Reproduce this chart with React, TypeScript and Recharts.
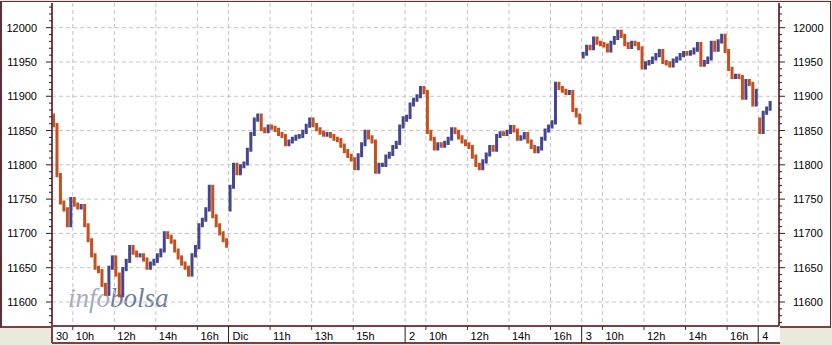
import { ComposedChart, Bar, Cell, XAxis, YAxis, CartesianGrid } from 'recharts';

// intraday closes, one value every 10 minutes (9:00 - 17:30)
const dayLabels = ['30', 'Dic', '2', '3', '4'];
const dayOpens = [11872, 11735, 11866, 11958, 11866];

const day30 = [
  11858, 11785, 11745, 11735, 11712, 11750, 11742, 11738, 11740, 11712,
  11690, 11668, 11650, 11645, 11625, 11612, 11650, 11665, 11640, 11610,
  11648, 11660, 11680, 11672, 11668, 11668, 11662, 11650, 11656, 11660,
  11668, 11675, 11700, 11695, 11688, 11675, 11665, 11656, 11650, 11640,
  11668, 11680, 11712, 11720, 11735, 11768, 11725, 11712, 11700, 11690,
  11682,
];
const dayDic = [
  11768, 11800, 11788, 11798, 11802, 11822, 11845, 11866, 11872, 11852,
  11849, 11856, 11854, 11851, 11845, 11842, 11830, 11834, 11838, 11841,
  11842, 11848, 11857, 11866, 11858, 11852, 11847, 11844, 11845, 11842,
  11838, 11836, 11828, 11820, 11813, 11808, 11795, 11814, 11830, 11848,
  11840, 11834, 11790, 11800, 11800, 11812, 11816, 11826, 11832, 11856,
  11868,
];
const day2 = [
  11870, 11888, 11895, 11900, 11912, 11906, 11848, 11838, 11824, 11830,
  11828, 11832, 11838, 11852, 11848, 11840, 11834, 11830, 11826, 11812,
  11800, 11795, 11805, 11815, 11826, 11822, 11842, 11846, 11845, 11848,
  11855, 11850, 11838, 11840, 11845, 11834, 11826, 11820, 11824, 11838,
  11850, 11856, 11862, 11918, 11912, 11908, 11905, 11906, 11880, 11872,
  11862,
];
const day3 = [
  11962, 11972, 11970, 11984, 11978, 11976, 11974, 11967, 11978, 11985,
  11994, 11988, 11976, 11972, 11978, 11976, 11970, 11942, 11948, 11950,
  11955, 11960, 11966, 11950, 11948, 11945, 11952, 11955, 11960, 11963,
  11962, 11964, 11968, 11976, 11946, 11950, 11955, 11978, 11968, 11980,
  11988, 11966, 11940, 11928, 11930, 11928, 11898, 11922, 11918, 11888,
  11908,
];
const day4 = [11848, 11876, 11882, 11890];

const dayTicks = [0, 510, 1020, 1530, 2040];
const hourTicks = [60, 180, 300, 420, 630, 750, 870, 1080, 1200, 1320, 1440, 1590, 1710, 1830, 1950];
const hourLabels = ['10h', '12h', '14h', '16h', '11h', '13h', '15h', '10h', '12h', '14h', '16h', '10h', '12h', '14h', '16h'];
const majorY = [11600, 11650, 11700, 11750, 11800, 11850, 11900, 11950, 12000];
const minorY = Array.from({ length: 47 }, (_, i) => 11570 + i * 10);

const DAY_MIN = 510;
const PAD = 3;
const BLUE = '#45468f';
const RED = '#c5501f';
const AXIS = '#7b3f4a';
const FONT = '"Liberation Sans", Arial, sans-serif';

const days = [day30, dayDic, day2, day3, day4];
const rows: { t: number; range: [number, number]; up: boolean }[] = [];
days.forEach((closes, d) => {
  closes.forEach((c, i) => {
    const prev = i === 0 ? dayOpens[d] : closes[i - 1];
    rows.push({
      t: d * DAY_MIN + i * 10 + 5,
      range: [Math.min(prev, c) - PAD, Math.max(prev, c) + PAD],
      up: c >= prev,
    });
  });
});

const xTicks = [...dayTicks, ...hourTicks].sort((a, b) => a - b);

function XTick(props: any) {
  const { x, y, payload } = props;
  const di = dayTicks.indexOf(payload.value);
  if (di >= 0) {
    return (
      <g>
        <line x1={x} x2={x} y1={y} y2={y + 17} stroke={di === 0 ? AXIS : '#222'} strokeWidth={di === 0 ? 2 : 1} />
        <text x={x + 4} y={y + 14} fontSize={11} fontFamily={FONT} fill="#000">{dayLabels[di]}</text>
      </g>
    );
  }
  const label = hourLabels[hourTicks.indexOf(payload.value)];
  return (
    <g>
      <line x1={x} x2={x} y1={y} y2={y + 4} stroke="#333" />
      <text x={x + 3} y={y + 14} fontSize={11} fontFamily={FONT} fill="#000">{label}</text>
    </g>
  );
}

function YTick(props: any) {
  const { x, y, payload, side } = props;
  const major = payload.value % 50 === 0;
  const dir = side === 'left' ? -1 : 1;
  const len = major ? 6 : 3;
  return (
    <g>
      <line x1={x} x2={x + dir * len} y1={y} y2={y} stroke="#222" />
      {major && (
        <text
          x={side === 'left' ? x - 15 : x + 14}
          y={y + 4}
          textAnchor={side === 'left' ? 'end' : 'start'}
          fontSize={11}
          fontFamily={FONT}
          fill="#000"
        >
          {payload.value}
        </text>
      )}
    </g>
  );
}

export default function App() {
  return (
    <div style={{ position: 'relative', width: 832, height: 345, background: '#ebe9dc', overflow: 'hidden' }}>
      <style>{'body{margin:0}'}</style>
      <div style={{ position: 'absolute', left: 0, top: 1, width: 828, height: 324, background: '#fff', border: '1px solid #5c2f36', borderLeftWidth: 2, borderBottom: `2px solid ${AXIS}` }} />
      <div style={{ position: 'absolute', left: 52, top: 326, width: 728, height: 16, background: '#fff', borderBottom: `2px solid ${AXIS}` }} />
      <svg width={832} height={345} style={{ position: 'absolute', left: 0, top: 0 }}>
        <text x={68} y={307} fontSize={27} fontStyle="italic" fontFamily='"Liberation Serif", serif'>
          <tspan fill="#a6abc0">info</tspan>
          <tspan fill="#6f7a9c">bolsa</tspan>
        </text>
      </svg>
      <div style={{ position: 'absolute', left: 0, top: 0 }}>
        <ComposedChart width={832} height={345} data={rows} margin={{ top: 3, right: 0, bottom: 0, left: 0 }}>
          <CartesianGrid
            yAxisId="left"
            stroke="#c4c4c4"
            strokeDasharray="4 3"
            horizontalValues={majorY}
          />
          <XAxis
            dataKey="t"
            type="number"
            domain={[0, 2100]}
            ticks={xTicks}
            interval={0}
            height={19}
            tickSize={0}
            tickMargin={0}
            tickLine={false}
            axisLine={{ stroke: AXIS, strokeWidth: 2 }}
            tick={(p: any) => <XTick {...p} />}
          />
          <YAxis
            yAxisId="left"
            orientation="left"
            width={52}
            domain={[11565, 12036]}
            ticks={minorY}
            interval={0}
            tickSize={0}
            tickMargin={0}
            tickLine={false}
            allowDataOverflow
            axisLine={{ stroke: AXIS, strokeWidth: 2 }}
            tick={(p: any) => <YTick {...p} side="left" />}
          />
          <YAxis
            yAxisId="right"
            orientation="right"
            width={53}
            domain={[11565, 12036]}
            ticks={minorY}
            interval={0}
            tickSize={0}
            tickMargin={0}
            tickLine={false}
            allowDataOverflow
            axisLine={{ stroke: AXIS, strokeWidth: 2 }}
            tick={(p: any) => <YTick {...p} side="right" />}
          />
          <Bar yAxisId="left" dataKey="range" barSize={3} isAnimationActive={false}>
            {rows.map((r, k) => (
              <Cell key={k} fill={r.up ? BLUE : RED} />
            ))}
          </Bar>
        </ComposedChart>
      </div>
    </div>
  );
}
